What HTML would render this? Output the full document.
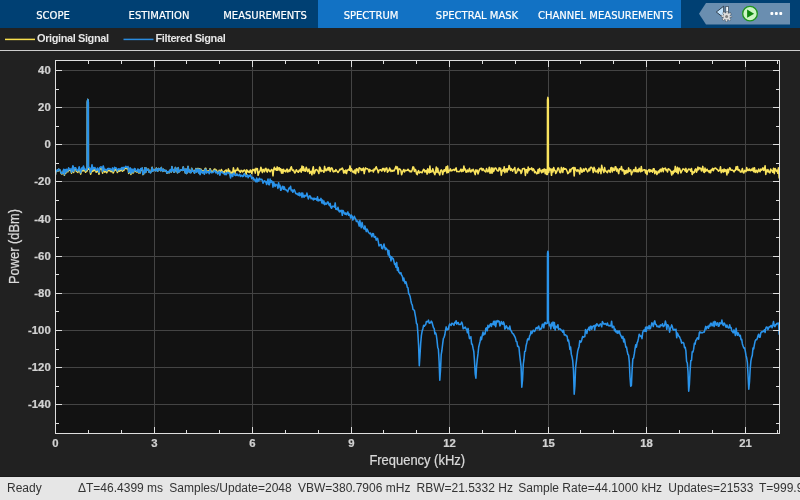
<!DOCTYPE html>
<html><head><meta charset="utf-8"><title>Spectrum Analyzer</title>
<style>
html,body{margin:0;padding:0;}
body{width:800px;height:500px;overflow:hidden;background:#212121;position:relative;font-family:"Liberation Sans",sans-serif;}
#tabs{position:absolute;left:0;top:0;width:800px;height:28px;background:#004073;}
#tabs .ctx{position:absolute;left:318px;top:0;width:363px;height:28px;background:#1272c4;}
#tabs .t{position:absolute;top:0;height:28px;line-height:32px;text-align:center;color:#fff;-webkit-text-stroke:0.2px #fff;font-family:"DejaVu Sans","Liberation Sans",sans-serif;font-size:10px;white-space:nowrap;}
#legend{position:absolute;left:0;top:28px;width:800px;height:22px;}
#legend span{position:absolute;top:3.3px;font-weight:bold;font-size:11px;letter-spacing:-0.4px;color:#e6e6e6;line-height:14px;white-space:nowrap;}
#sep{position:absolute;left:0;top:50px;width:800px;height:1px;background:#cdcdcd;}
#status{position:absolute;left:0;top:477px;width:800px;height:23px;background:#e6e6e6;border-top:0;box-shadow:0 -1px 0 #1a1a1a;color:#333;font-size:12px;line-height:23px;white-space:nowrap;overflow:hidden;}
#status span{position:absolute;top:0;}
svg{position:absolute;left:0;top:0;}
#root{position:absolute;left:0;top:0;width:800px;height:500px;will-change:transform;}
</style></head><body><div id="root">
<div id="tabs"><div class="ctx"></div>
<div class="t" style="left:0;width:106px">SCOPE</div>
<div class="t" style="left:106px;width:106px">ESTIMATION</div>
<div class="t" style="left:212px;width:106px">MEASUREMENTS</div>
<div class="t" style="left:318px;width:106px">SPECTRUM</div>
<div class="t" style="left:424px;width:106px">SPECTRAL MASK</div>
<div class="t" style="left:530px;width:151px">CHANNEL MEASUREMENTS</div>
</div>
<div id="legend"><span style="left:37px">Original Signal</span><span style="left:155.5px">Filtered Signal</span></div>
<div id="sep"></div>
<svg width="800" height="500" viewBox="0 0 800 500" font-family="'Liberation Sans',sans-serif">
<!-- qab -->
<path d="M699,13.7 L706,3 L790,3 L790,24.5 L706,24.5 Z" fill="#6a8eb0"/>
<g id="ico1">
<path d="M716.3,12 L723.7,6.2 L723.7,17.8 Z" fill="#c2e2fb" stroke="#222c38" stroke-width="0.85" stroke-linejoin="round"/>
<rect x="725.8" y="6.4" width="2.7" height="8.5" fill="#f4f8fc" stroke="#2e3f52" stroke-width="0.7"/>
<circle cx="726.6" cy="16.4" r="4.1" fill="none" stroke="#3c4650" stroke-opacity="0.75" stroke-width="2.8" stroke-dasharray="2.02 1.2" stroke-dashoffset="1.0"/>
<circle cx="726.6" cy="16.4" r="3.9" fill="#3c4650" fill-opacity="0.75"/>
<circle cx="726.6" cy="16.4" r="4.0" fill="none" stroke="#e2e2e2" stroke-width="2.0" stroke-dasharray="1.54 1.6" stroke-dashoffset="0.77"/>
<circle cx="726.6" cy="16.4" r="3.3" fill="#dedede"/>
<circle cx="726.6" cy="16.4" r="1.5" fill="#808080"/>
</g>
<circle cx="750" cy="13.65" r="7.3" fill="#cdf6c4" stroke="#1d931d" stroke-width="1.3"/>
<path d="M747.1,9.6 L754.1,13.65 L747.1,17.7 Z" fill="#0e860e"/>
<rect x="770.4" y="12.1" width="2.9" height="2.9" rx="0.9" fill="#fff"/><rect x="774.9" y="12.1" width="2.9" height="2.9" rx="0.9" fill="#fff"/><rect x="779.3" y="12.1" width="2.9" height="2.9" rx="0.9" fill="#fff"/>
<!-- legend lines -->
<line x1="5" y1="39.4" x2="35" y2="39.4" stroke="#f9e04e" stroke-width="1.5"/>
<line x1="123.5" y1="39.4" x2="153.5" y2="39.4" stroke="#2a8ce0" stroke-width="1.5"/>
<!-- axes -->
<rect x="55" y="60" width="725" height="374" fill="#121212"/>
<g shape-rendering="crispEdges" stroke-width="1"><line x1="154.5" y1="61" x2="154.5" y2="433" stroke="#444444"/><line x1="252.5" y1="61" x2="252.5" y2="433" stroke="#444444"/><line x1="351.5" y1="61" x2="351.5" y2="433" stroke="#444444"/><line x1="449.5" y1="61" x2="449.5" y2="433" stroke="#444444"/><line x1="548.5" y1="61" x2="548.5" y2="433" stroke="#444444"/><line x1="646.5" y1="61" x2="646.5" y2="433" stroke="#444444"/><line x1="745.5" y1="61" x2="745.5" y2="433" stroke="#444444"/><line x1="56" y1="404.5" x2="779" y2="404.5" stroke="#444444"/><line x1="56" y1="367.5" x2="779" y2="367.5" stroke="#444444"/><line x1="56" y1="330.5" x2="779" y2="330.5" stroke="#444444"/><line x1="56" y1="293.5" x2="779" y2="293.5" stroke="#444444"/><line x1="56" y1="256.5" x2="779" y2="256.5" stroke="#444444"/><line x1="56" y1="219.5" x2="779" y2="219.5" stroke="#444444"/><line x1="56" y1="181.5" x2="779" y2="181.5" stroke="#444444"/><line x1="56" y1="144.5" x2="779" y2="144.5" stroke="#444444"/><line x1="56" y1="107.5" x2="779" y2="107.5" stroke="#444444"/><line x1="56" y1="70.5" x2="779" y2="70.5" stroke="#444444"/></g>
<clipPath id="cp"><rect x="56" y="61" width="723" height="372"/></clipPath>
<g clip-path="url(#cp)" fill="none" stroke-width="1.55" stroke-linejoin="round">
<path d="M55.2,175.8 L55.9,170.7 L56.6,171.1 L57.3,170.1 L58.0,171.1 L58.7,169.3 L59.4,170.0 L60.1,170.3 L60.9,172.8 L61.6,173.9 L62.3,173.8 L63.0,172.6 L63.7,169.9 L64.4,175.3 L65.1,170.3 L65.8,173.2 L66.5,169.9 L67.2,171.7 L67.9,171.7 L68.6,168.7 L69.3,170.4 L70.0,170.1 L70.8,170.1 L71.5,173.2 L72.2,170.0 L72.9,166.8 L73.6,172.5 L74.3,169.2 L75.0,169.0 L75.7,169.0 L76.4,171.5 L77.1,171.1 L77.8,172.5 L78.5,170.6 L79.2,168.2 L79.9,171.7 L80.7,174.1 L81.4,170.4 L82.1,169.0 L82.8,170.9 L83.5,167.6 L84.2,170.8 L84.9,170.4 L85.6,172.3 L86.3,171.0 L87.2,171.0 L87.3,101.9 L87.8,99.4 L88.3,101.9 L88.4,169.2 L89.1,169.2 L89.8,169.6 L90.6,174.2 L91.3,171.9 L92.0,166.4 L92.7,171.4 L93.4,169.3 L94.1,170.6 L94.8,169.3 L95.5,170.4 L96.2,172.2 L96.9,171.8 L97.6,169.9 L98.3,171.3 L99.0,174.2 L99.7,169.6 L100.5,168.7 L101.2,168.9 L101.9,168.8 L102.6,173.2 L103.3,167.7 L104.0,170.7 L104.7,172.1 L105.4,171.2 L106.1,171.7 L106.8,172.7 L107.5,170.5 L108.2,170.2 L108.9,170.8 L109.6,170.2 L110.3,170.8 L111.1,171.7 L111.8,171.5 L112.5,169.6 L113.2,173.0 L113.9,171.4 L114.6,168.9 L115.3,170.1 L116.0,169.4 L116.7,170.5 L117.4,172.5 L118.1,171.2 L118.8,170.3 L119.5,171.2 L120.2,170.8 L121.0,170.2 L121.7,169.0 L122.4,171.3 L123.1,168.5 L123.8,170.5 L124.5,168.8 L125.2,168.6 L125.9,167.6 L126.6,168.7 L127.3,168.7 L128.0,167.6 L128.7,173.5 L129.4,172.1 L130.1,168.7 L130.9,174.4 L131.6,170.1 L132.3,170.1 L133.0,173.1 L133.7,172.0 L134.4,169.3 L135.1,169.5 L135.8,171.4 L136.5,171.9 L137.2,171.7 L137.9,169.6 L138.6,172.9 L139.3,170.4 L140.0,173.0 L140.8,168.9 L141.5,170.1 L142.2,168.2 L142.9,174.6 L143.6,174.1 L144.3,171.5 L145.0,167.9 L145.7,172.4 L146.4,168.2 L147.1,170.1 L147.8,170.1 L148.5,169.2 L149.2,172.2 L149.9,171.5 L150.6,172.6 L151.4,170.2 L152.1,167.3 L152.8,171.1 L153.5,169.5 L154.2,169.8 L154.9,170.1 L155.6,170.7 L156.3,168.1 L157.0,170.2 L157.7,171.2 L158.4,168.5 L159.1,169.0 L159.8,169.8 L160.5,170.6 L161.3,167.6 L162.0,170.3 L162.7,171.4 L163.4,169.3 L164.1,170.8 L164.8,170.3 L165.5,170.9 L166.2,170.6 L166.9,173.3 L167.6,171.8 L168.3,171.7 L169.0,172.9 L169.7,170.8 L170.4,169.9 L171.2,172.1 L171.9,166.8 L172.6,170.6 L173.3,169.6 L174.0,172.3 L174.7,171.9 L175.4,167.6 L176.1,169.2 L176.8,170.6 L177.5,172.8 L178.2,167.7 L178.9,172.0 L179.6,171.1 L180.3,170.6 L181.1,169.7 L181.8,170.3 L182.5,170.4 L183.2,167.0 L183.9,170.1 L184.6,169.5 L185.3,172.9 L186.0,169.0 L186.7,173.5 L187.4,171.5 L188.1,166.4 L188.8,171.7 L189.5,170.3 L190.2,172.4 L191.0,172.4 L191.7,168.3 L192.4,171.1 L193.1,170.5 L193.8,170.8 L194.5,173.0 L195.2,170.6 L195.9,168.5 L196.6,171.7 L197.3,169.5 L198.0,168.4 L198.7,172.5 L199.4,168.8 L200.1,173.9 L200.8,169.1 L201.6,170.9 L202.3,172.4 L203.0,170.5 L203.7,171.4 L204.4,173.5 L205.1,168.5 L205.8,168.3 L206.5,172.2 L207.2,171.1 L207.9,171.2 L208.6,170.8 L209.3,172.7 L210.0,168.7 L210.7,170.2 L211.5,172.1 L212.2,171.2 L212.9,171.7 L213.6,170.6 L214.3,169.2 L215.0,169.1 L215.7,172.3 L216.4,170.1 L217.1,171.9 L217.8,173.6 L218.5,172.3 L219.2,170.3 L219.9,173.2 L220.6,171.6 L221.4,169.5 L222.1,171.6 L222.8,171.6 L223.5,172.0 L224.2,173.8 L224.9,170.8 L225.6,170.3 L226.3,170.1 L227.0,172.2 L227.7,172.1 L228.4,168.9 L229.1,172.0 L229.8,170.9 L230.5,176.0 L231.3,172.3 L232.0,172.3 L232.7,173.1 L233.4,167.8 L234.1,171.0 L234.8,173.9 L235.5,170.3 L236.2,170.4 L236.9,170.3 L237.6,168.0 L238.3,170.5 L239.0,170.3 L239.7,171.6 L240.4,172.2 L241.1,170.4 L241.9,170.5 L242.6,172.0 L243.3,171.2 L244.0,170.2 L244.7,170.1 L245.4,171.4 L246.1,174.3 L246.8,169.9 L247.5,171.0 L248.2,172.1 L248.9,171.2 L249.6,172.5 L250.3,170.0 L251.0,171.0 L251.8,173.5 L252.5,169.8 L253.2,169.5 L253.9,170.7 L254.6,169.4 L255.3,173.1 L256.0,168.2 L256.7,169.8 L257.4,168.6 L258.1,175.3 L258.8,173.1 L259.5,171.4 L260.2,170.9 L260.9,167.2 L261.7,170.4 L262.4,172.6 L263.1,169.4 L263.8,170.0 L264.5,171.7 L265.2,168.9 L265.9,168.3 L266.6,170.8 L267.3,172.1 L268.0,169.2 L268.7,169.7 L269.4,170.9 L270.1,171.8 L270.8,170.8 L271.6,169.5 L272.3,170.2 L273.0,175.8 L273.7,169.2 L274.4,167.3 L275.1,169.6 L275.8,168.8 L276.5,170.3 L277.2,166.9 L277.9,170.3 L278.6,167.9 L279.3,167.7 L280.0,170.6 L280.7,168.8 L281.5,173.1 L282.2,169.6 L282.9,173.2 L283.6,169.3 L284.3,171.1 L285.0,170.7 L285.7,171.9 L286.4,169.8 L287.1,169.0 L287.8,172.0 L288.5,170.9 L289.2,169.8 L289.9,171.4 L290.6,168.1 L291.3,166.8 L292.1,169.8 L292.8,170.4 L293.5,170.0 L294.2,171.8 L294.9,173.0 L295.6,171.6 L296.3,169.8 L297.0,170.8 L297.7,171.9 L298.4,172.2 L299.1,170.3 L299.8,170.9 L300.5,169.0 L301.2,172.2 L302.0,166.0 L302.7,170.4 L303.4,166.7 L304.1,170.9 L304.8,169.3 L305.5,171.2 L306.2,167.3 L306.9,169.0 L307.6,171.6 L308.3,170.6 L309.0,169.0 L309.7,173.5 L310.4,171.6 L311.1,171.3 L311.9,174.8 L312.6,169.8 L313.3,166.8 L314.0,173.7 L314.7,172.5 L315.4,170.1 L316.1,169.6 L316.8,169.7 L317.5,170.8 L318.2,171.2 L318.9,173.5 L319.6,167.1 L320.3,167.9 L321.0,171.5 L321.8,170.3 L322.5,170.7 L323.2,171.0 L323.9,172.3 L324.6,166.4 L325.3,170.6 L326.0,169.0 L326.7,170.6 L327.4,169.7 L328.1,167.5 L328.8,170.1 L329.5,167.6 L330.2,171.5 L330.9,169.0 L331.6,167.8 L332.4,168.9 L333.1,171.5 L333.8,171.9 L334.5,170.9 L335.2,171.4 L335.9,169.6 L336.6,170.6 L337.3,171.6 L338.0,172.5 L338.7,171.4 L339.4,170.3 L340.1,169.0 L340.8,169.6 L341.5,169.1 L342.3,168.1 L343.0,169.5 L343.7,173.0 L344.4,170.7 L345.1,172.8 L345.8,170.0 L346.5,173.5 L347.2,170.4 L347.9,170.0 L348.6,169.2 L349.3,170.3 L350.0,165.9 L350.7,171.1 L351.4,168.8 L352.2,171.1 L352.9,172.1 L353.6,171.1 L354.3,173.0 L355.0,169.9 L355.7,173.7 L356.4,168.8 L357.1,170.4 L357.8,169.1 L358.5,172.4 L359.2,167.7 L359.9,168.2 L360.6,168.6 L361.3,170.5 L362.1,168.9 L362.8,170.4 L363.5,168.1 L364.2,173.6 L364.9,170.2 L365.6,167.9 L366.3,168.8 L367.0,168.7 L367.7,168.8 L368.4,169.9 L369.1,172.0 L369.8,169.4 L370.5,171.0 L371.2,170.7 L371.9,170.5 L372.7,170.2 L373.4,172.0 L374.1,169.0 L374.8,169.9 L375.5,168.2 L376.2,166.8 L376.9,168.9 L377.6,170.0 L378.3,172.7 L379.0,170.3 L379.7,169.9 L380.4,169.7 L381.1,170.1 L381.8,171.2 L382.6,168.6 L383.3,169.9 L384.0,168.4 L384.7,171.5 L385.4,169.7 L386.1,168.1 L386.8,168.1 L387.5,172.3 L388.2,170.4 L388.9,170.9 L389.6,168.1 L390.3,169.5 L391.0,171.4 L391.7,170.3 L392.5,171.1 L393.2,170.2 L393.9,171.0 L394.6,169.8 L395.3,168.1 L396.0,166.4 L396.7,168.8 L397.4,167.0 L398.1,174.1 L398.8,169.0 L399.5,168.9 L400.2,169.4 L400.9,170.4 L401.6,174.7 L402.4,172.2 L403.1,170.6 L403.8,169.5 L404.5,171.9 L405.2,170.3 L405.9,170.5 L406.6,170.5 L407.3,170.2 L408.0,169.2 L408.7,170.8 L409.4,170.5 L410.1,171.9 L410.8,171.0 L411.5,171.8 L412.3,169.5 L413.0,166.8 L413.7,167.2 L414.4,171.4 L415.1,169.4 L415.8,170.1 L416.5,173.8 L417.2,174.6 L417.9,171.6 L418.6,170.6 L419.3,173.0 L420.0,172.2 L420.7,172.0 L421.4,172.2 L422.1,172.8 L422.9,170.8 L423.6,169.2 L424.3,169.9 L425.0,172.1 L425.7,170.7 L426.4,170.3 L427.1,174.1 L427.8,168.7 L428.5,171.7 L429.2,172.9 L429.9,166.1 L430.6,172.3 L431.3,171.0 L432.0,171.8 L432.8,168.7 L433.5,170.9 L434.2,173.2 L434.9,174.7 L435.6,171.4 L436.3,167.0 L437.0,172.4 L437.7,168.2 L438.4,172.0 L439.1,173.3 L439.8,175.0 L440.5,170.7 L441.2,169.9 L441.9,170.6 L442.7,174.5 L443.4,171.5 L444.1,169.8 L444.8,171.4 L445.5,169.6 L446.2,166.8 L446.9,173.0 L447.6,166.0 L448.3,172.5 L449.0,170.6 L449.7,170.6 L450.4,168.9 L451.1,171.0 L451.8,170.3 L452.6,170.5 L453.3,169.6 L454.0,169.6 L454.7,170.4 L455.4,168.9 L456.1,167.9 L456.8,171.6 L457.5,171.5 L458.2,171.6 L458.9,171.7 L459.6,171.6 L460.3,170.3 L461.0,169.1 L461.7,171.6 L462.5,169.6 L463.2,171.2 L463.9,166.1 L464.6,170.0 L465.3,169.1 L466.0,172.2 L466.7,172.0 L467.4,170.0 L468.1,171.8 L468.8,170.5 L469.5,168.4 L470.2,171.8 L470.9,172.0 L471.6,170.1 L472.3,170.9 L473.1,169.3 L473.8,170.7 L474.5,172.4 L475.2,174.6 L475.9,169.8 L476.6,171.7 L477.3,170.2 L478.0,173.9 L478.7,171.8 L479.4,169.8 L480.1,168.6 L480.8,168.6 L481.5,168.2 L482.2,170.5 L483.0,168.8 L483.7,169.8 L484.4,170.9 L485.1,171.3 L485.8,171.9 L486.5,168.6 L487.2,170.4 L487.9,171.8 L488.6,170.7 L489.3,167.2 L490.0,173.1 L490.7,173.0 L491.4,167.9 L492.1,173.2 L492.9,168.0 L493.6,171.5 L494.3,169.7 L495.0,168.1 L495.7,168.1 L496.4,169.0 L497.1,170.5 L497.8,170.9 L498.5,170.9 L499.2,167.7 L499.9,169.8 L500.6,168.3 L501.3,175.2 L502.0,171.1 L502.8,169.9 L503.5,171.1 L504.2,166.8 L504.9,172.6 L505.6,169.4 L506.3,168.8 L507.0,172.0 L507.7,168.8 L508.4,169.6 L509.1,165.5 L509.8,167.8 L510.5,170.4 L511.2,168.6 L511.9,169.6 L512.6,171.2 L513.4,169.2 L514.1,169.5 L514.8,167.6 L515.5,173.1 L516.2,173.0 L516.9,171.8 L517.6,169.2 L518.3,168.4 L519.0,170.6 L519.7,169.9 L520.4,170.3 L521.1,173.5 L521.8,171.9 L522.5,168.7 L523.3,168.8 L524.0,168.3 L524.7,169.1 L525.4,175.4 L526.1,169.8 L526.8,169.7 L527.5,172.9 L528.2,167.1 L528.9,170.6 L529.6,168.7 L530.3,168.9 L531.0,169.2 L531.7,167.9 L532.4,170.6 L533.2,168.7 L533.9,169.5 L534.6,172.7 L535.3,171.5 L536.0,172.6 L536.7,173.8 L537.4,173.4 L538.1,169.5 L538.8,173.1 L539.5,168.6 L540.2,170.8 L540.9,170.8 L541.6,172.7 L542.3,169.7 L543.1,172.1 L543.8,169.2 L544.5,169.1 L545.2,173.7 L545.9,169.5 L546.6,174.5 L547.4,174.5 L547.5,99.9 L547.9,97.4 L548.3,99.9 L548.4,172.4 L548.7,172.4 L549.4,168.1 L550.1,169.9 L550.8,169.1 L551.5,175.3 L552.2,169.0 L553.0,171.9 L553.7,167.5 L554.4,170.2 L555.1,170.5 L555.8,173.5 L556.5,172.1 L557.2,170.4 L557.9,168.0 L558.6,168.1 L559.3,170.8 L560.0,172.6 L560.7,172.7 L561.4,167.4 L562.1,169.8 L562.8,172.4 L563.6,167.7 L564.3,169.3 L565.0,169.0 L565.7,168.8 L566.4,169.7 L567.1,171.3 L567.8,173.6 L568.5,173.0 L569.2,172.0 L569.9,169.4 L570.6,171.7 L571.3,168.9 L572.0,168.7 L572.7,167.7 L573.5,167.6 L574.2,175.9 L574.9,167.5 L575.6,169.9 L576.3,170.0 L577.0,171.5 L577.7,169.8 L578.4,170.1 L579.1,171.6 L579.8,174.0 L580.5,167.9 L581.2,169.3 L581.9,172.2 L582.6,171.2 L583.4,168.9 L584.1,171.3 L584.8,169.7 L585.5,168.4 L586.2,168.7 L586.9,170.5 L587.6,171.9 L588.3,170.9 L589.0,168.9 L589.7,170.6 L590.4,167.4 L591.1,167.2 L591.8,167.6 L592.5,168.9 L593.3,172.5 L594.0,167.3 L594.7,168.9 L595.4,171.5 L596.1,171.9 L596.8,171.4 L597.5,169.9 L598.2,173.0 L598.9,168.1 L599.6,170.9 L600.3,169.2 L601.0,173.6 L601.7,165.3 L602.4,168.4 L603.1,170.4 L603.9,172.5 L604.6,167.6 L605.3,171.0 L606.0,171.1 L606.7,172.0 L607.4,172.7 L608.1,170.4 L608.8,170.2 L609.5,171.1 L610.2,172.4 L610.9,167.7 L611.6,167.5 L612.3,171.9 L613.0,168.0 L613.8,170.2 L614.5,170.4 L615.2,166.8 L615.9,167.0 L616.6,171.1 L617.3,169.0 L618.0,171.5 L618.7,173.6 L619.4,168.8 L620.1,169.5 L620.8,169.0 L621.5,166.5 L622.2,170.9 L622.9,169.5 L623.7,170.1 L624.4,174.2 L625.1,170.7 L625.8,173.5 L626.5,170.3 L627.2,172.4 L627.9,172.6 L628.6,167.9 L629.3,171.2 L630.0,170.9 L630.7,169.8 L631.4,174.7 L632.1,172.2 L632.8,171.9 L633.6,169.7 L634.3,170.0 L635.0,171.6 L635.7,167.3 L636.4,171.4 L637.1,171.9 L637.8,169.7 L638.5,171.8 L639.2,168.2 L639.9,169.9 L640.6,171.8 L641.3,166.5 L642.0,171.2 L642.7,170.5 L643.5,169.9 L644.2,169.8 L644.9,169.7 L645.6,173.0 L646.3,170.3 L647.0,174.5 L647.7,170.9 L648.4,170.7 L649.1,169.5 L649.8,172.0 L650.5,169.9 L651.2,171.3 L651.9,170.3 L652.6,172.2 L653.3,168.7 L654.1,168.8 L654.8,173.6 L655.5,171.0 L656.2,171.2 L656.9,174.5 L657.6,172.9 L658.3,171.0 L659.0,172.8 L659.7,170.2 L660.4,169.2 L661.1,171.7 L661.8,169.4 L662.5,168.1 L663.2,171.7 L664.0,168.4 L664.7,168.4 L665.4,168.1 L666.1,170.4 L666.8,169.9 L667.5,172.0 L668.2,168.8 L668.9,169.1 L669.6,169.7 L670.3,170.4 L671.0,171.6 L671.7,175.0 L672.4,171.4 L673.1,173.8 L673.9,170.6 L674.6,172.0 L675.3,166.4 L676.0,171.5 L676.7,172.1 L677.4,167.3 L678.1,173.6 L678.8,168.3 L679.5,168.2 L680.2,170.5 L680.9,172.9 L681.6,171.5 L682.3,170.1 L683.0,168.8 L683.8,169.3 L684.5,169.5 L685.2,171.1 L685.9,168.4 L686.6,172.3 L687.3,171.6 L688.0,170.0 L688.7,169.0 L689.4,169.5 L690.1,169.4 L690.8,171.2 L691.5,168.6 L692.2,174.5 L692.9,171.6 L693.6,172.9 L694.4,172.4 L695.1,169.5 L695.8,168.9 L696.5,172.2 L697.2,170.3 L697.9,167.1 L698.6,169.8 L699.3,167.8 L700.0,168.4 L700.7,168.2 L701.4,170.9 L702.1,169.6 L702.8,166.4 L703.5,171.7 L704.3,172.5 L705.0,168.1 L705.7,171.4 L706.4,170.2 L707.1,169.2 L707.8,171.0 L708.5,170.7 L709.2,172.6 L709.9,170.5 L710.6,172.8 L711.3,169.6 L712.0,170.1 L712.7,168.4 L713.4,170.8 L714.2,168.4 L714.9,168.2 L715.6,168.1 L716.3,168.9 L717.0,169.5 L717.7,169.8 L718.4,171.2 L719.1,170.4 L719.8,170.4 L720.5,166.8 L721.2,172.7 L721.9,170.8 L722.6,169.8 L723.3,172.1 L724.1,169.0 L724.8,171.5 L725.5,169.7 L726.2,170.2 L726.9,174.9 L727.6,169.2 L728.3,172.8 L729.0,169.7 L729.7,167.8 L730.4,168.8 L731.1,170.3 L731.8,170.2 L732.5,170.0 L733.2,170.7 L734.0,171.9 L734.7,170.3 L735.4,170.4 L736.1,166.8 L736.8,169.4 L737.5,166.5 L738.2,170.4 L738.9,169.7 L739.6,170.2 L740.3,171.9 L741.0,172.1 L741.7,170.8 L742.4,168.6 L743.1,172.3 L743.8,172.9 L744.6,170.4 L745.3,171.5 L746.0,171.6 L746.7,167.6 L747.4,170.4 L748.1,169.3 L748.8,170.5 L749.5,169.0 L750.2,170.5 L750.9,170.7 L751.6,169.1 L752.3,170.5 L753.0,168.1 L753.7,171.7 L754.5,167.8 L755.2,172.5 L755.9,171.1 L756.6,170.2 L757.3,172.5 L758.0,171.5 L758.7,169.1 L759.4,170.8 L760.1,171.8 L760.8,169.1 L761.5,170.2 L762.2,169.4 L762.9,167.8 L763.6,170.4 L764.4,169.8 L765.1,165.7 L765.8,174.4 L766.5,170.0 L767.2,171.8 L767.9,169.6 L768.6,171.9 L769.3,171.2 L770.0,172.9 L770.7,169.1 L771.4,170.3 L772.1,170.9 L772.8,172.3 L773.5,168.3 L774.3,173.6 L775.0,168.5 L775.7,169.7 L776.4,171.3 L777.1,170.2 L777.8,173.2 L778.5,167.9 L779.2,178.4" stroke="#f9e35e"/>
<path d="M55.2,175.8 L55.9,170.7 L56.6,171.0 L57.3,169.9 L58.0,170.9 L58.7,169.1 L59.4,169.7 L60.1,169.9 L60.9,172.4 L61.6,173.5 L62.3,173.3 L63.0,172.1 L63.7,169.3 L64.4,174.7 L65.1,169.6 L65.8,172.4 L66.5,169.2 L67.2,170.9 L67.9,170.9 L68.6,167.8 L69.3,169.5 L70.0,169.1 L70.8,169.1 L71.5,172.2 L72.2,168.9 L72.9,165.7 L73.6,171.4 L74.3,168.0 L75.0,167.8 L75.7,167.8 L76.4,170.2 L77.1,169.8 L77.8,171.1 L78.5,169.2 L79.2,166.8 L79.9,170.3 L80.7,172.7 L81.4,168.9 L82.1,167.5 L82.8,169.4 L83.5,166.0 L84.2,169.2 L84.9,168.9 L85.6,170.7 L86.3,169.4 L87.2,169.4 L87.3,101.9 L87.8,99.4 L88.3,101.9 L88.4,167.5 L89.1,167.5 L89.8,167.9 L90.6,172.5 L91.3,170.2 L92.0,164.7 L92.7,169.6 L93.4,167.6 L94.1,168.8 L94.8,167.5 L95.5,168.6 L96.2,170.4 L96.9,170.0 L97.6,168.1 L98.3,169.5 L99.0,172.4 L99.7,167.8 L100.5,166.9 L101.2,167.1 L101.9,167.0 L102.6,171.4 L103.3,165.9 L104.0,168.9 L104.7,170.3 L105.4,169.4 L106.1,169.9 L106.8,170.9 L107.5,168.7 L108.2,168.4 L108.9,169.1 L109.6,168.5 L110.3,169.0 L111.1,170.0 L111.8,169.8 L112.5,167.9 L113.2,171.3 L113.9,169.7 L114.6,167.3 L115.3,168.5 L116.0,167.8 L116.7,168.9 L117.4,171.0 L118.1,169.6 L118.8,168.7 L119.5,169.6 L120.2,169.3 L121.0,168.7 L121.7,167.6 L122.4,169.9 L123.1,167.2 L123.8,169.1 L124.5,167.5 L125.2,167.3 L125.9,166.3 L126.6,167.5 L127.3,167.5 L128.0,166.5 L128.7,172.4 L129.4,171.0 L130.1,167.7 L130.9,173.4 L131.6,169.1 L132.3,169.2 L133.0,172.2 L133.7,171.2 L134.4,168.5 L135.1,168.7 L135.8,170.7 L136.5,171.2 L137.2,171.0 L137.9,169.0 L138.6,172.3 L139.3,169.9 L140.0,172.5 L140.8,168.5 L141.5,169.7 L142.2,167.9 L142.9,174.3 L143.6,173.9 L144.3,171.3 L145.0,167.8 L145.7,172.4 L146.4,168.3 L147.1,170.2 L147.8,170.3 L148.5,169.4 L149.2,172.4 L149.9,171.8 L150.6,172.9 L151.4,170.5 L152.1,167.5 L152.8,171.3 L153.5,169.7 L154.2,169.9 L154.9,170.2 L155.6,170.8 L156.3,168.2 L157.0,170.3 L157.7,171.3 L158.4,168.5 L159.1,169.0 L159.8,169.8 L160.5,170.6 L161.3,167.6 L162.0,170.3 L162.7,171.3 L163.4,169.2 L164.1,170.8 L164.8,170.2 L165.5,170.8 L166.2,170.5 L166.9,173.2 L167.6,171.7 L168.3,171.5 L169.0,172.7 L169.7,170.6 L170.4,169.7 L171.2,171.9 L171.9,166.6 L172.6,170.4 L173.3,169.5 L174.0,172.2 L174.7,171.8 L175.4,167.4 L176.1,169.1 L176.8,170.4 L177.5,172.7 L178.2,167.5 L178.9,171.9 L179.6,171.0 L180.3,170.5 L181.1,169.6 L181.8,170.2 L182.5,170.3 L183.2,167.0 L183.9,170.1 L184.6,169.5 L185.3,172.9 L186.0,169.0 L186.7,173.6 L187.4,171.5 L188.1,166.5 L188.8,171.8 L189.5,170.4 L190.2,172.6 L191.0,172.6 L191.7,168.6 L192.4,171.3 L193.1,170.7 L193.8,171.1 L194.5,173.3 L195.2,170.9 L195.9,168.9 L196.6,172.1 L197.3,170.0 L198.0,168.9 L198.7,173.1 L199.4,169.4 L200.1,174.6 L200.8,169.8 L201.6,171.6 L202.3,173.1 L203.0,171.3 L203.7,172.2 L204.4,174.2 L205.1,169.3 L205.8,169.2 L206.5,173.0 L207.2,171.8 L207.9,172.1 L208.6,171.8 L209.3,173.7 L210.0,169.7 L210.7,171.3 L211.5,172.8 L212.2,172.4 L212.9,172.6 L213.6,171.5 L214.3,170.6 L215.0,170.4 L215.7,172.8 L216.4,171.5 L217.1,172.7 L217.8,173.8 L218.5,172.9 L219.2,171.3 L219.9,175.3 L220.6,173.0 L221.4,171.8 L222.1,171.9 L222.8,173.1 L223.5,173.2 L224.2,173.5 L224.9,174.7 L225.6,173.0 L226.3,174.6 L227.0,173.1 L227.7,172.3 L228.4,172.6 L229.1,173.7 L229.8,173.0 L230.5,178.0 L231.3,174.8 L232.0,174.2 L232.7,176.5 L233.4,173.4 L234.1,173.1 L234.8,175.0 L235.5,175.5 L236.2,175.5 L236.9,173.9 L237.6,175.4 L238.3,175.7 L239.0,175.0 L239.7,174.2 L240.4,176.4 L241.1,175.7 L241.9,175.3 L242.6,176.6 L243.3,176.3 L244.0,173.9 L244.7,173.8 L245.4,175.9 L246.1,176.7 L246.8,176.2 L247.5,174.9 L248.2,177.7 L248.9,175.7 L249.6,176.3 L250.3,174.8 L251.0,176.2 L251.8,178.7 L252.5,177.4 L253.2,177.6 L253.9,179.9 L254.6,179.3 L255.3,180.9 L256.0,181.9 L256.7,178.1 L257.4,181.7 L258.1,179.3 L258.8,181.0 L259.5,178.2 L260.2,179.5 L260.9,179.7 L261.7,179.2 L262.4,180.7 L263.1,183.2 L263.8,181.3 L264.5,180.8 L265.2,181.9 L265.9,181.5 L266.6,184.5 L267.3,182.0 L268.0,179.1 L268.7,184.6 L269.4,184.8 L270.1,179.1 L270.8,182.4 L271.6,180.8 L272.3,182.0 L273.0,187.1 L273.7,182.1 L274.4,184.5 L275.1,186.4 L275.8,184.2 L276.5,185.0 L277.2,185.0 L277.9,188.4 L278.6,182.7 L279.3,186.9 L280.0,185.3 L280.7,190.3 L281.5,189.6 L282.2,186.6 L282.9,186.3 L283.6,189.2 L284.3,186.9 L285.0,189.6 L285.7,189.6 L286.4,190.1 L287.1,190.9 L287.8,191.9 L288.5,189.4 L289.2,187.9 L289.9,188.7 L290.6,186.3 L291.3,190.8 L292.1,189.9 L292.8,192.3 L293.5,190.9 L294.2,189.6 L294.9,191.0 L295.6,193.4 L296.3,193.9 L297.0,193.4 L297.7,194.6 L298.4,195.1 L299.1,192.7 L299.8,195.7 L300.5,195.0 L301.2,193.0 L302.0,197.4 L302.7,193.1 L303.4,196.3 L304.1,197.2 L304.8,195.4 L305.5,196.0 L306.2,195.9 L306.9,193.1 L307.6,195.6 L308.3,198.9 L309.0,197.1 L309.7,195.8 L310.4,196.2 L311.1,198.8 L311.9,198.1 L312.6,198.6 L313.3,200.0 L314.0,198.1 L314.7,199.4 L315.4,198.8 L316.1,198.6 L316.8,200.2 L317.5,196.8 L318.2,201.0 L318.9,199.5 L319.6,200.4 L320.3,200.2 L321.0,198.4 L321.8,202.9 L322.5,200.0 L323.2,203.6 L323.9,201.0 L324.6,204.6 L325.3,203.0 L326.0,204.2 L326.7,204.0 L327.4,202.0 L328.1,202.1 L328.8,204.3 L329.5,205.7 L330.2,203.4 L330.9,207.4 L331.6,208.3 L332.4,206.2 L333.1,206.5 L333.8,206.3 L334.5,207.1 L335.2,202.9 L335.9,209.3 L336.6,208.9 L337.3,209.8 L338.0,207.3 L338.7,210.7 L339.4,211.9 L340.1,210.4 L340.8,211.6 L341.5,210.4 L342.3,215.3 L343.0,210.4 L343.7,211.8 L344.4,213.4 L345.1,214.3 L345.8,212.9 L346.5,214.6 L347.2,213.8 L347.9,211.9 L348.6,215.3 L349.3,214.0 L350.0,215.3 L350.7,218.0 L351.4,215.1 L352.2,216.5 L352.9,220.1 L353.6,218.2 L354.3,216.2 L355.0,218.1 L355.7,218.9 L356.4,221.5 L357.1,221.3 L357.8,221.0 L358.5,223.6 L359.2,226.1 L359.9,220.6 L360.6,225.2 L361.3,227.7 L362.1,222.4 L362.8,226.2 L363.5,228.1 L364.2,229.2 L364.9,225.9 L365.6,229.0 L366.3,231.6 L367.0,229.0 L367.7,230.4 L368.4,232.2 L369.1,233.0 L369.8,233.7 L370.5,233.1 L371.2,234.8 L371.9,236.7 L372.7,233.5 L373.4,233.7 L374.1,237.0 L374.8,237.4 L375.5,236.5 L376.2,240.2 L376.9,239.1 L377.6,238.4 L378.3,241.7 L379.0,245.9 L379.7,245.1 L380.4,245.0 L381.1,244.5 L381.8,248.4 L382.6,248.8 L383.3,246.1 L384.0,244.1 L384.7,247.3 L385.4,249.6 L386.1,248.1 L386.8,249.1 L387.5,250.1 L388.2,255.0 L388.9,250.4 L389.6,257.2 L390.3,256.1 L391.0,260.9 L391.7,256.8 L392.5,258.8 L393.2,258.5 L393.9,261.3 L394.6,264.4 L395.3,263.5 L396.0,267.3 L396.7,262.4 L397.4,270.4 L398.1,267.4 L398.8,271.9 L399.5,272.7 L400.2,273.7 L400.9,272.6 L401.6,275.2 L402.4,276.4 L403.1,280.7 L403.8,278.1 L404.5,281.5 L405.2,283.4 L405.9,281.6 L406.6,284.1 L407.3,287.4 L408.0,287.9 L408.7,293.9 L409.4,294.4 L410.1,296.4 L410.8,300.2 L411.5,303.5 L412.3,305.1 L413.0,309.3 L413.7,309.8 L414.4,310.3 L415.1,314.3 L415.8,318.2 L416.5,323.7 L417.2,324.1 L417.9,333.8 L418.6,345.4 L419.3,365.7 L420.0,354.9 L420.7,343.3 L421.4,335.4 L422.1,331.3 L422.9,328.7 L423.6,325.4 L424.3,326.3 L425.0,325.0 L425.7,324.7 L426.4,321.5 L427.1,321.8 L427.8,321.8 L428.5,320.1 L429.2,323.2 L429.9,323.1 L430.6,322.6 L431.3,321.1 L432.0,322.2 L432.8,325.3 L433.5,327.8 L434.2,328.5 L434.9,333.9 L435.6,332.8 L436.3,335.0 L437.0,340.2 L437.7,347.2 L438.4,349.3 L439.1,361.0 L439.8,380.2 L440.5,369.9 L441.2,354.7 L441.9,350.5 L442.7,343.7 L443.4,338.4 L444.1,337.3 L444.8,335.1 L445.5,330.4 L446.2,326.9 L446.9,329.9 L447.6,329.0 L448.3,329.3 L449.0,326.0 L449.7,324.1 L450.4,324.6 L451.1,325.4 L451.8,323.2 L452.6,323.7 L453.3,324.2 L454.0,325.2 L454.7,322.4 L455.4,323.0 L456.1,320.8 L456.8,324.2 L457.5,323.0 L458.2,322.5 L458.9,324.4 L459.6,324.4 L460.3,324.6 L461.0,323.8 L461.7,322.1 L462.5,324.6 L463.2,328.8 L463.9,328.4 L464.6,327.6 L465.3,327.0 L466.0,328.9 L466.7,329.2 L467.4,332.8 L468.1,328.4 L468.8,334.7 L469.5,338.6 L470.2,337.6 L470.9,336.7 L471.6,344.1 L472.3,344.3 L473.1,348.4 L473.8,351.5 L474.5,361.0 L475.2,373.8 L475.9,378.2 L476.6,366.0 L477.3,359.2 L478.0,353.7 L478.7,347.0 L479.4,344.1 L480.1,341.2 L480.8,337.0 L481.5,339.6 L482.2,335.6 L483.0,332.1 L483.7,335.0 L484.4,333.3 L485.1,334.0 L485.8,328.4 L486.5,327.9 L487.2,330.8 L487.9,325.3 L488.6,327.5 L489.3,326.7 L490.0,324.7 L490.7,323.7 L491.4,326.5 L492.1,323.9 L492.9,324.2 L493.6,321.4 L494.3,325.0 L495.0,321.0 L495.7,326.7 L496.4,322.1 L497.1,320.5 L497.8,321.9 L498.5,320.9 L499.2,321.4 L499.9,326.0 L500.6,324.6 L501.3,321.6 L502.0,323.4 L502.8,324.3 L503.5,321.9 L504.2,323.9 L504.9,329.1 L505.6,327.7 L506.3,325.8 L507.0,327.2 L507.7,328.9 L508.4,328.1 L509.1,329.2 L509.8,326.1 L510.5,329.9 L511.2,330.9 L511.9,332.4 L512.6,333.6 L513.4,333.9 L514.1,335.5 L514.8,336.6 L515.5,338.3 L516.2,341.6 L516.9,341.7 L517.6,346.4 L518.3,346.2 L519.0,347.7 L519.7,355.1 L520.4,360.8 L521.1,366.9 L521.8,387.2 L522.5,380.1 L523.3,364.0 L524.0,359.2 L524.7,351.4 L525.4,351.2 L526.1,345.7 L526.8,342.9 L527.5,339.3 L528.2,338.7 L528.9,339.9 L529.6,335.9 L530.3,334.9 L531.0,331.2 L531.7,333.5 L532.4,332.3 L533.2,330.2 L533.9,330.6 L534.6,331.4 L535.3,330.1 L536.0,327.9 L536.7,327.6 L537.4,328.8 L538.1,327.0 L538.8,326.1 L539.5,329.8 L540.2,328.4 L540.9,329.1 L541.6,328.2 L542.3,324.3 L543.1,324.3 L543.8,327.8 L544.5,323.0 L545.2,322.4 L545.9,323.9 L546.6,323.3 L547.4,323.3 L547.5,253.7 L547.9,251.2 L548.3,253.7 L548.4,321.4 L548.7,321.4 L549.4,325.7 L550.1,324.9 L550.8,328.9 L551.5,323.1 L552.2,325.7 L553.0,322.0 L553.7,328.1 L554.4,322.6 L555.1,330.0 L555.8,326.3 L556.5,326.4 L557.2,327.6 L557.9,324.7 L558.6,329.4 L559.3,328.9 L560.0,328.8 L560.7,329.6 L561.4,330.7 L562.1,330.3 L562.8,332.2 L563.6,330.3 L564.3,335.0 L565.0,334.7 L565.7,334.9 L566.4,336.0 L567.1,336.0 L567.8,340.9 L568.5,340.0 L569.2,343.7 L569.9,349.4 L570.6,347.1 L571.3,354.2 L572.0,356.8 L572.7,360.5 L573.5,370.7 L574.2,394.2 L574.9,385.7 L575.6,367.5 L576.3,362.2 L577.0,356.4 L577.7,351.1 L578.4,348.5 L579.1,346.4 L579.8,340.7 L580.5,342.3 L581.2,341.7 L581.9,339.3 L582.6,336.6 L583.4,337.3 L584.1,336.6 L584.8,336.7 L585.5,329.5 L586.2,331.1 L586.9,333.4 L587.6,329.7 L588.3,329.1 L589.0,327.3 L589.7,330.4 L590.4,326.2 L591.1,326.3 L591.8,329.3 L592.5,326.5 L593.3,326.1 L594.0,325.6 L594.7,329.9 L595.4,325.1 L596.1,325.9 L596.8,323.7 L597.5,324.5 L598.2,325.7 L598.9,326.3 L599.6,324.9 L600.3,323.9 L601.0,324.4 L601.7,326.8 L602.4,321.6 L603.1,322.8 L603.9,324.2 L604.6,324.0 L605.3,323.5 L606.0,324.2 L606.7,325.1 L607.4,323.0 L608.1,325.4 L608.8,325.8 L609.5,325.5 L610.2,326.0 L610.9,325.8 L611.6,321.2 L612.3,327.7 L613.0,326.5 L613.8,326.2 L614.5,330.8 L615.2,329.1 L615.9,332.0 L616.6,331.1 L617.3,333.2 L618.0,330.9 L618.7,333.0 L619.4,331.1 L620.1,334.2 L620.8,335.3 L621.5,336.8 L622.2,338.3 L622.9,336.4 L623.7,342.0 L624.4,339.1 L625.1,343.2 L625.8,347.1 L626.5,347.0 L627.2,351.0 L627.9,354.3 L628.6,355.2 L629.3,361.8 L630.0,377.0 L630.7,386.2 L631.4,385.4 L632.1,370.2 L632.8,358.9 L633.6,357.9 L634.3,353.9 L635.0,349.0 L635.7,344.8 L636.4,347.1 L637.1,342.9 L637.8,341.4 L638.5,338.2 L639.2,334.2 L639.9,335.3 L640.6,336.4 L641.3,336.0 L642.0,338.6 L642.7,332.6 L643.5,330.4 L644.2,330.0 L644.9,331.5 L645.6,327.2 L646.3,331.4 L647.0,326.9 L647.7,327.4 L648.4,328.8 L649.1,325.5 L649.8,328.9 L650.5,328.2 L651.2,325.6 L651.9,322.8 L652.6,324.1 L653.3,326.5 L654.1,322.4 L654.8,320.9 L655.5,324.3 L656.2,324.5 L656.9,326.4 L657.6,326.3 L658.3,326.9 L659.0,326.1 L659.7,327.2 L660.4,324.9 L661.1,325.7 L661.8,325.1 L662.5,323.8 L663.2,326.6 L664.0,326.1 L664.7,324.8 L665.4,321.1 L666.1,323.9 L666.8,329.3 L667.5,324.7 L668.2,325.3 L668.9,327.0 L669.6,332.2 L670.3,328.8 L671.0,327.0 L671.7,324.9 L672.4,326.9 L673.1,329.7 L673.9,330.2 L674.6,329.3 L675.3,330.1 L676.0,329.2 L676.7,337.8 L677.4,333.1 L678.1,334.5 L678.8,336.2 L679.5,336.8 L680.2,338.5 L680.9,340.0 L681.6,343.1 L682.3,342.7 L683.0,342.4 L683.8,343.3 L684.5,347.7 L685.2,347.2 L685.9,350.9 L686.6,361.5 L687.3,362.8 L688.0,371.5 L688.7,391.2 L689.4,384.3 L690.1,370.8 L690.8,360.4 L691.5,360.4 L692.2,351.8 L692.9,352.0 L693.6,349.4 L694.4,343.4 L695.1,344.2 L695.8,340.2 L696.5,339.9 L697.2,337.9 L697.9,337.8 L698.6,339.2 L699.3,332.8 L700.0,331.8 L700.7,332.9 L701.4,332.5 L702.1,332.9 L702.8,332.6 L703.5,332.0 L704.3,332.1 L705.0,329.3 L705.7,326.4 L706.4,328.9 L707.1,326.8 L707.8,326.3 L708.5,328.2 L709.2,325.3 L709.9,326.3 L710.6,323.3 L711.3,323.3 L712.0,325.8 L712.7,325.6 L713.4,322.0 L714.2,326.5 L714.9,321.4 L715.6,322.2 L716.3,325.2 L717.0,324.5 L717.7,322.7 L718.4,326.3 L719.1,326.0 L719.8,322.7 L720.5,323.7 L721.2,323.6 L721.9,320.1 L722.6,324.2 L723.3,325.5 L724.1,323.1 L724.8,324.0 L725.5,326.1 L726.2,327.3 L726.9,325.0 L727.6,326.8 L728.3,327.9 L729.0,327.9 L729.7,324.7 L730.4,327.8 L731.1,327.5 L731.8,331.1 L732.5,331.4 L733.2,332.9 L734.0,329.9 L734.7,331.9 L735.4,335.5 L736.1,328.3 L736.8,332.8 L737.5,335.2 L738.2,332.9 L738.9,334.9 L739.6,336.1 L740.3,335.3 L741.0,339.6 L741.7,339.3 L742.4,343.9 L743.1,346.1 L743.8,348.0 L744.6,347.9 L745.3,351.1 L746.0,355.4 L746.7,358.0 L747.4,362.7 L748.1,376.5 L748.8,389.2 L749.5,381.8 L750.2,368.7 L750.9,360.9 L751.6,357.4 L752.3,355.3 L753.0,348.0 L753.7,348.9 L754.5,344.2 L755.2,340.8 L755.9,339.7 L756.6,339.8 L757.3,338.4 L758.0,335.6 L758.7,334.2 L759.4,337.3 L760.1,337.2 L760.8,333.0 L761.5,331.8 L762.2,332.0 L762.9,331.2 L763.6,331.5 L764.4,329.7 L765.1,332.5 L765.8,328.2 L766.5,327.0 L767.2,327.2 L767.9,329.6 L768.6,328.2 L769.3,326.6 L770.0,326.9 L770.7,326.0 L771.4,325.5 L772.1,327.8 L772.8,324.9 L773.5,321.6 L774.3,326.1 L775.0,326.6 L775.7,324.5 L776.4,324.7 L777.1,323.2 L777.8,323.7 L778.5,323.1 L779.2,334.8" stroke="#2a93ea"/>
</g>
<g shape-rendering="crispEdges" stroke-width="1"><line x1="55.5" y1="433" x2="55.5" y2="427" stroke="#dedede"/><line x1="55.5" y1="61" x2="55.5" y2="67" stroke="#dedede"/><line x1="88.5" y1="433" x2="88.5" y2="430" stroke="#dedede"/><line x1="88.5" y1="61" x2="88.5" y2="64" stroke="#dedede"/><line x1="121.5" y1="433" x2="121.5" y2="430" stroke="#dedede"/><line x1="121.5" y1="61" x2="121.5" y2="64" stroke="#dedede"/><line x1="154.5" y1="433" x2="154.5" y2="427" stroke="#dedede"/><line x1="154.5" y1="61" x2="154.5" y2="67" stroke="#dedede"/><line x1="186.5" y1="433" x2="186.5" y2="430" stroke="#dedede"/><line x1="186.5" y1="61" x2="186.5" y2="64" stroke="#dedede"/><line x1="219.5" y1="433" x2="219.5" y2="430" stroke="#dedede"/><line x1="219.5" y1="61" x2="219.5" y2="64" stroke="#dedede"/><line x1="252.5" y1="433" x2="252.5" y2="427" stroke="#dedede"/><line x1="252.5" y1="61" x2="252.5" y2="67" stroke="#dedede"/><line x1="285.5" y1="433" x2="285.5" y2="430" stroke="#dedede"/><line x1="285.5" y1="61" x2="285.5" y2="64" stroke="#dedede"/><line x1="318.5" y1="433" x2="318.5" y2="430" stroke="#dedede"/><line x1="318.5" y1="61" x2="318.5" y2="64" stroke="#dedede"/><line x1="351.5" y1="433" x2="351.5" y2="427" stroke="#dedede"/><line x1="351.5" y1="61" x2="351.5" y2="67" stroke="#dedede"/><line x1="383.5" y1="433" x2="383.5" y2="430" stroke="#dedede"/><line x1="383.5" y1="61" x2="383.5" y2="64" stroke="#dedede"/><line x1="416.5" y1="433" x2="416.5" y2="430" stroke="#dedede"/><line x1="416.5" y1="61" x2="416.5" y2="64" stroke="#dedede"/><line x1="449.5" y1="433" x2="449.5" y2="427" stroke="#dedede"/><line x1="449.5" y1="61" x2="449.5" y2="67" stroke="#dedede"/><line x1="482.5" y1="433" x2="482.5" y2="430" stroke="#dedede"/><line x1="482.5" y1="61" x2="482.5" y2="64" stroke="#dedede"/><line x1="515.5" y1="433" x2="515.5" y2="430" stroke="#dedede"/><line x1="515.5" y1="61" x2="515.5" y2="64" stroke="#dedede"/><line x1="548.5" y1="433" x2="548.5" y2="427" stroke="#dedede"/><line x1="548.5" y1="61" x2="548.5" y2="67" stroke="#dedede"/><line x1="580.5" y1="433" x2="580.5" y2="430" stroke="#dedede"/><line x1="580.5" y1="61" x2="580.5" y2="64" stroke="#dedede"/><line x1="613.5" y1="433" x2="613.5" y2="430" stroke="#dedede"/><line x1="613.5" y1="61" x2="613.5" y2="64" stroke="#dedede"/><line x1="646.5" y1="433" x2="646.5" y2="427" stroke="#dedede"/><line x1="646.5" y1="61" x2="646.5" y2="67" stroke="#dedede"/><line x1="679.5" y1="433" x2="679.5" y2="430" stroke="#dedede"/><line x1="679.5" y1="61" x2="679.5" y2="64" stroke="#dedede"/><line x1="712.5" y1="433" x2="712.5" y2="430" stroke="#dedede"/><line x1="712.5" y1="61" x2="712.5" y2="64" stroke="#dedede"/><line x1="745.5" y1="433" x2="745.5" y2="427" stroke="#dedede"/><line x1="745.5" y1="61" x2="745.5" y2="67" stroke="#dedede"/><line x1="777.5" y1="433" x2="777.5" y2="430" stroke="#dedede"/><line x1="777.5" y1="61" x2="777.5" y2="64" stroke="#dedede"/><line x1="56" y1="423.5" x2="59" y2="423.5" stroke="#dedede"/><line x1="779" y1="423.5" x2="776" y2="423.5" stroke="#dedede"/><line x1="56" y1="404.5" x2="62" y2="404.5" stroke="#dedede"/><line x1="779" y1="404.5" x2="773" y2="404.5" stroke="#dedede"/><line x1="56" y1="386.5" x2="59" y2="386.5" stroke="#dedede"/><line x1="779" y1="386.5" x2="776" y2="386.5" stroke="#dedede"/><line x1="56" y1="367.5" x2="62" y2="367.5" stroke="#dedede"/><line x1="779" y1="367.5" x2="773" y2="367.5" stroke="#dedede"/><line x1="56" y1="349.5" x2="59" y2="349.5" stroke="#dedede"/><line x1="779" y1="349.5" x2="776" y2="349.5" stroke="#dedede"/><line x1="56" y1="330.5" x2="62" y2="330.5" stroke="#dedede"/><line x1="779" y1="330.5" x2="773" y2="330.5" stroke="#dedede"/><line x1="56" y1="311.5" x2="59" y2="311.5" stroke="#dedede"/><line x1="779" y1="311.5" x2="776" y2="311.5" stroke="#dedede"/><line x1="56" y1="293.5" x2="62" y2="293.5" stroke="#dedede"/><line x1="779" y1="293.5" x2="773" y2="293.5" stroke="#dedede"/><line x1="56" y1="274.5" x2="59" y2="274.5" stroke="#dedede"/><line x1="779" y1="274.5" x2="776" y2="274.5" stroke="#dedede"/><line x1="56" y1="256.5" x2="62" y2="256.5" stroke="#dedede"/><line x1="779" y1="256.5" x2="773" y2="256.5" stroke="#dedede"/><line x1="56" y1="237.5" x2="59" y2="237.5" stroke="#dedede"/><line x1="779" y1="237.5" x2="776" y2="237.5" stroke="#dedede"/><line x1="56" y1="219.5" x2="62" y2="219.5" stroke="#dedede"/><line x1="779" y1="219.5" x2="773" y2="219.5" stroke="#dedede"/><line x1="56" y1="200.5" x2="59" y2="200.5" stroke="#dedede"/><line x1="779" y1="200.5" x2="776" y2="200.5" stroke="#dedede"/><line x1="56" y1="181.5" x2="62" y2="181.5" stroke="#dedede"/><line x1="779" y1="181.5" x2="773" y2="181.5" stroke="#dedede"/><line x1="56" y1="163.5" x2="59" y2="163.5" stroke="#dedede"/><line x1="779" y1="163.5" x2="776" y2="163.5" stroke="#dedede"/><line x1="56" y1="144.5" x2="62" y2="144.5" stroke="#dedede"/><line x1="779" y1="144.5" x2="773" y2="144.5" stroke="#dedede"/><line x1="56" y1="126.5" x2="59" y2="126.5" stroke="#dedede"/><line x1="779" y1="126.5" x2="776" y2="126.5" stroke="#dedede"/><line x1="56" y1="107.5" x2="62" y2="107.5" stroke="#dedede"/><line x1="779" y1="107.5" x2="773" y2="107.5" stroke="#dedede"/><line x1="56" y1="89.5" x2="59" y2="89.5" stroke="#dedede"/><line x1="779" y1="89.5" x2="776" y2="89.5" stroke="#dedede"/><line x1="56" y1="70.5" x2="62" y2="70.5" stroke="#dedede"/><line x1="779" y1="70.5" x2="773" y2="70.5" stroke="#dedede"/>
<rect x="55.5" y="60.5" width="724" height="373" fill="none" stroke="#dedede"/></g>
<g font-size="10.2" font-weight="bold" fill="#d2d2d2" stroke="#d2d2d2" stroke-width="0.22"><text transform="translate(55.5,447) scale(1.11,1)" text-anchor="middle">0</text><text transform="translate(154.5,447) scale(1.11,1)" text-anchor="middle">3</text><text transform="translate(252.5,447) scale(1.11,1)" text-anchor="middle">6</text><text transform="translate(351.5,447) scale(1.11,1)" text-anchor="middle">9</text><text transform="translate(449.5,447) scale(1.11,1)" text-anchor="middle">12</text><text transform="translate(548.5,447) scale(1.11,1)" text-anchor="middle">15</text><text transform="translate(646.5,447) scale(1.11,1)" text-anchor="middle">18</text><text transform="translate(745.5,447) scale(1.11,1)" text-anchor="middle">21</text><text transform="translate(50.7,408.2) scale(1.11,1)" text-anchor="end">-140</text><text transform="translate(50.7,371.2) scale(1.11,1)" text-anchor="end">-120</text><text transform="translate(50.7,334.2) scale(1.11,1)" text-anchor="end">-100</text><text transform="translate(50.7,297.2) scale(1.11,1)" text-anchor="end">-80</text><text transform="translate(50.7,260.2) scale(1.11,1)" text-anchor="end">-60</text><text transform="translate(50.7,223.2) scale(1.11,1)" text-anchor="end">-40</text><text transform="translate(50.7,185.2) scale(1.11,1)" text-anchor="end">-20</text><text transform="translate(50.7,148.2) scale(1.11,1)" text-anchor="end">0</text><text transform="translate(50.7,111.2) scale(1.11,1)" text-anchor="end">20</text><text transform="translate(50.7,74.2) scale(1.11,1)" text-anchor="end">40</text></g>
<text transform="translate(417.2,465) scale(0.925,1)" text-anchor="middle" font-size="14" fill="#d9d9d9" stroke="#d9d9d9" stroke-width="0.25">Frequency (kHz)</text>
<text transform="translate(19.1,246.5) rotate(-90) scale(0.868,1)" text-anchor="middle" font-size="14.8" fill="#d9d9d9" stroke="#d9d9d9" stroke-width="0.25">Power (dBm)</text>
</svg>
<div id="status"><span style="left:7px">Ready</span><span style="left:78px">&#916;T=46.4399 ms</span><span style="left:169.3px">Samples/Update=2048</span><span style="left:298px">VBW=380.7906 mHz</span><span style="left:416.5px">RBW=21.5332 Hz</span><span style="left:518.3px">Sample Rate=44.1000 kHz</span><span style="left:668.3px">Updates=21533</span><span style="left:759px">T=999.9536 s</span></div>
</div></body></html>
